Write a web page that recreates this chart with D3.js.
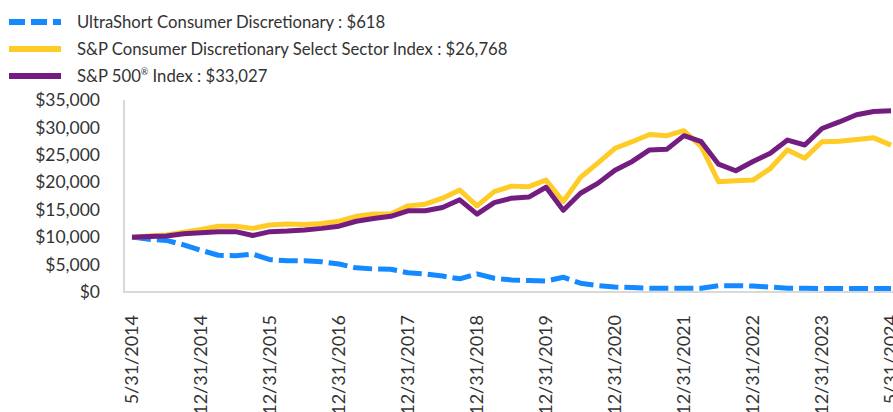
<!DOCTYPE html>
<html>
<head>
<meta charset="utf-8">
<script src="https://cdn.jsdelivr.net/npm/d3@7"></script>
<style>
  body { margin: 0; background: #fff; }
  svg text { font-family: Lato, "Open Sans", sans-serif; fill: #333; }
</style>
</head>
<body>
<svg id="chart" width="893" height="412"></svg>
<script>
// growth of $10,000, one value per period (45 periods)
var ultraShort = [10000, 9600, 9400, 8600, 7600, 6700, 6600, 6900, 5900, 5700,
  5700, 5500, 5100, 4400, 4200, 4150, 3500, 3300, 2900, 2400,
  3300, 2500, 2200, 2100, 2000, 2700, 1600, 1150, 900, 800,
  700, 680, 670, 680, 1150, 1150, 1100, 900, 700, 680,
  620, 620, 620, 620, 618];
var consDisc = [10000, 10200, 10400, 10900, 11400, 12000, 12000, 11600, 12200, 12400,
  12300, 12500, 12900, 13800, 14200, 14200, 15700, 16000, 17100, 18600,
  15700, 18300, 19300, 19200, 20400, 16500, 20900, 23500, 26200, 27400,
  28700, 28500, 29400, 26500, 20100, 20300, 20400, 22500, 25900, 24400,
  27400, 27500, 27800, 28100, 26768];
var sp500 = [10000, 10100, 10200, 10600, 10800, 11000, 11000, 10300, 11000, 11100,
  11300, 11600, 12000, 12900, 13400, 13800, 14800, 14800, 15400, 16800,
  14200, 16300, 17100, 17300, 19100, 14900, 18000, 19800, 22200, 23800,
  25900, 26000, 28500, 27400, 23300, 22100, 23800, 25300, 27700, 26800,
  29800, 31000, 32300, 32900, 33027];

var xTickLabels = ["5/31/2014", "12/31/2014", "12/31/2015", "12/31/2016", "12/31/2017",
  "12/31/2018", "12/31/2019", "12/31/2020", "12/31/2021", "12/31/2022",
  "12/31/2023", "5/31/2024"];
var xTickIndex = [0, 4, 8, 12, 16, 20, 24, 28, 32, 36, 40, 44];
var yTicks = [0, 5000, 10000, 15000, 20000, 25000, 30000, 35000];

// legend text, split so the ® mark can be raised
var legendNames = [["UltraShort Consumer Discretionary : $618"],
  ["S&P Consumer Discretionary Select Sector Index : $26,768"],
  ["S&P 500", "\u00AE", " Index : $33,027"]];

var svg = d3.select("#chart");

var x = d3.scaleLinear().domain([0, 44]).range([132, 891]);
var y = d3.scaleLinear().domain([0, 35000]).range([292, 100]);

// axis lines
svg.append("line")
  .attr("x1", 124).attr("x2", 124)
  .attr("y1", 100).attr("y2", 292)
  .style("stroke", "#d9d9d9").style("stroke-width", 2);
svg.append("line")
  .attr("x1", 123).attr("x2", 893)
  .attr("y1", 292).attr("y2", 292)
  .style("stroke", "#d9d9d9").style("stroke-width", 2);

// y axis labels
var yAxis = d3.axisLeft(y)
  .tickValues(yTicks)
  .tickSize(0)
  .tickPadding(24)
  .tickFormat(function (d) { return "$" + d3.format(",")(d); });
var gy = svg.append("g").attr("transform", "translate(124,0)").call(yAxis);
gy.select(".domain").remove();
gy.selectAll("text")
  .style("font-size", "17.5px")
  .style("font-family", "Lato, sans-serif")
  .style("fill", "#333");

// x axis labels, rotated
svg.append("g").selectAll("text")
  .data(xTickIndex)
  .enter().append("text")
  .attr("transform", function (d) { return "translate(" + (x(d) + 6) + ",315) rotate(-90)"; })
  .attr("text-anchor", "end")
  .style("font-size", "18px")
  .text(function (d, i) { return xTickLabels[i]; });

var line = d3.line()
  .x(function (d, i) { return x(i); })
  .y(function (d) { return y(d); });

var series = [
  { values: ultraShort, color: "#1589ff", dash: "19,6" },
  { values: consDisc, color: "#ffcb27", dash: null },
  { values: sp500, color: "#741d80", dash: null }
];

series.forEach(function (s) {
  svg.append("path")
    .datum(s.values)
    .attr("d", line)
    .style("fill", "none")
    .style("stroke", s.color)
    .style("stroke-width", 5)
    .style("stroke-linejoin", "round")
    .style("stroke-dasharray", s.dash);
});

// legend
var legend = svg.append("g").selectAll("g")
  .data(series)
  .enter().append("g")
  .attr("transform", function (d, i) { return "translate(0," + (22 + i * 27) + ")"; });
legend.append("line")
  .attr("x1", 9).attr("x2", 61)
  .style("stroke", function (d) { return d.color; })
  .style("stroke-width", 6)
  .style("stroke-dasharray", function (d) { return d.dash ? "16,6" : null; });
var legendText = legend.append("text")
  .attr("x", 77).attr("y", 6)
  .style("font-size", "16.7px");
legendText.each(function (d, i) {
  var t = d3.select(this);
  legendNames[i].forEach(function (part, j) {
    var sp = t.append("tspan").text(part);
    if (part === "\u00AE") {
      sp.style("font-size", "9px").attr("dy", -7);
    } else if (j > 0 && legendNames[i][j - 1] === "\u00AE") {
      sp.attr("dy", 7);
    }
  });
});
</script>
</body>
</html>
